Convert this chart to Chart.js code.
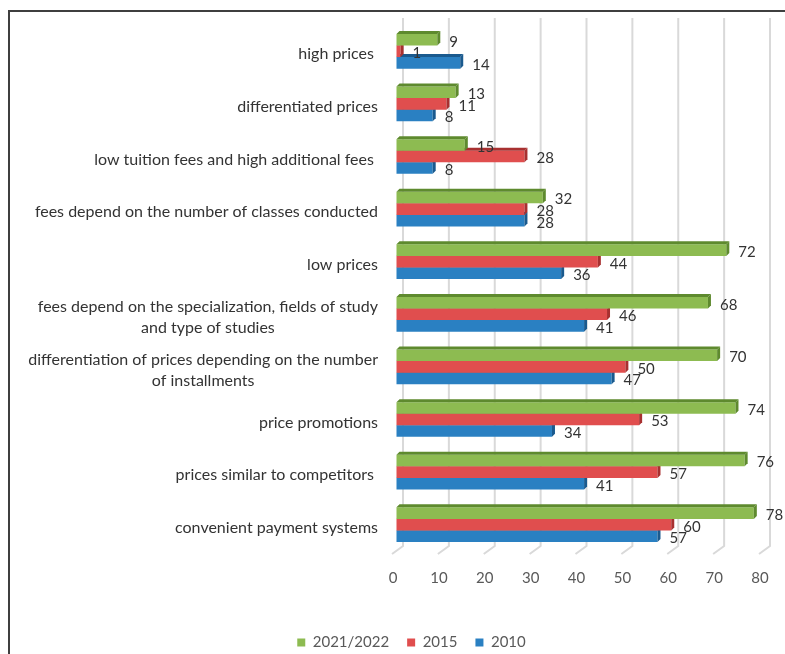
<!DOCTYPE html>
<html><head><meta charset="utf-8">
<script src="https://cdn.jsdelivr.net/npm/chart.js@4/dist/chart.umd.min.js"></script>
<style>
html,body{margin:0;padding:0;background:#fff;}
#wrap{position:relative;width:785px;height:654px;overflow:hidden;}
#frame{position:absolute;left:8px;top:10px;width:800px;height:700px;border-top:2px solid #3f3f3f;border-left:2px solid #3f3f3f;pointer-events:none;}
canvas{position:absolute;left:0;top:0;}
</style></head><body>
<div id="wrap"><canvas id="c" width="785" height="654"></canvas><div id="frame"></div></div>
<script>
const categories = [
  'high prices ',
  'differentiated prices',
  'low tuition fees and high additional fees ',
  'fees depend on the number of classes conducted',
  'low prices',
  ['fees depend on the specialization, fields of study', 'and type of studies'],
  ['differentiation of prices depending on the number', 'of installments'],
  'price promotions',
  'prices similar to competitors ',
  'convenient payment systems'
];
const seriesNames = ['2021/2022', '2015', '2010'];
const values2022 = [9, 13, 15, 32, 72, 68, 70, 74, 76, 78];
const values2015 = [1, 11, 28, 28, 44, 46, 50, 53, 57, 60];
const values2010 = [14, 8, 8, 28, 36, 41, 47, 34, 41, 57];
const xTickValues = [0, 10, 20, 30, 40, 50, 60, 70, 80];

const frontColors = ['#8DBB51', '#E04E4E', '#2A80C2'];
const sideColors = ['#5E8A2E', '#A83030', '#1A5A8E'];
const FONT = 'Lato, "Open Sans", sans-serif';
const TEXT = '#333333';
const D = 3; // 3D depth

const grid3d = {
  id: 'grid3d',
  beforeDatasetsDraw(chart) {
    const {ctx, chartArea, scales: {x}} = chart;
    ctx.save();
    ctx.strokeStyle = '#D9D9D9';
    ctx.lineWidth = 2;
    xTickValues.forEach(v => {
      const px = x.getPixelForValue(v);
      ctx.beginPath();
      ctx.moveTo(px + 7, chartArea.top - 7);
      ctx.lineTo(px + 7, chartArea.bottom - 5);
      ctx.lineTo(px - 4, chartArea.bottom + 3);
      ctx.stroke();
    });
    ctx.restore();
  }
};

const bars3d = {
  id: 'bars3d',
  afterDatasetDraw(chart, args) {
    const {ctx} = chart;
    const i = args.index;
    ctx.save();
    ctx.fillStyle = sideColors[i];
    args.meta.data.forEach(el => {
      const {x, y, base, height} = el.getProps(['x', 'y', 'base', 'height'], true);
      const t = y - height / 2, b = y + height / 2;
      ctx.beginPath();
      ctx.moveTo(base, t);
      ctx.lineTo(base + D, t - D);
      ctx.lineTo(x + D, t - D);
      ctx.lineTo(x, t);
      ctx.closePath();
      ctx.fill();
      ctx.beginPath();
      ctx.moveTo(x, t);
      ctx.lineTo(x + D, t - D);
      ctx.lineTo(x + D, b - D);
      ctx.lineTo(x, b);
      ctx.closePath();
      ctx.fill();
    });
    ctx.restore();
  }
};

const texts = {
  id: 'texts',
  afterDatasetsDraw(chart) {
    const {ctx, scales: {y}} = chart;
    ctx.save();
    ctx.fillStyle = TEXT;
    ctx.textBaseline = 'middle';
    ctx.textAlign = 'left';
    ctx.font = '15px ' + FONT;
    chart.data.datasets.forEach((ds, di) => {
      chart.getDatasetMeta(di).data.forEach((el, j) => {
        const {x, y: cy} = el.getProps(['x', 'y'], true);
        ctx.fillText(String(ds.data[j]), x + 12, cy + 2);
      });
    });
    ctx.font = '16px ' + FONT;
    ctx.textAlign = 'center';
    const right = 378, lh = 21;
    categories.forEach((lab, j) => {
      const lines = Array.isArray(lab) ? lab : [lab];
      const w = Math.max(...lines.map(l => ctx.measureText(l).width));
      const cx = right - w / 2;
      const cy = y.getPixelForValue(j) + 3;
      const start = cy - (lines.length - 1) * lh / 2;
      lines.forEach((l, k) => ctx.fillText(l, cx, start + k * lh));
    });
    ctx.restore();
  }
};

new Chart(document.getElementById('c'), {
  type: 'bar',
  data: {
    labels: categories,
    datasets: [
      {label: seriesNames[0], data: values2022, backgroundColor: frontColors[0]},
      {label: seriesNames[1], data: values2015, backgroundColor: frontColors[1]},
      {label: seriesNames[2], data: values2010, backgroundColor: frontColors[2]}
    ]
  },
  options: {
    indexAxis: 'y',
    responsive: false,
    animation: false,
    layout: {padding: {top: 25, right: 22, left: 60, bottom: -6}},
    datasets: {bar: {categoryPercentage: 0.66, barPercentage: 1, borderWidth: 0}},
    scales: {
      y: {
        type: 'category',
        ticks: {display: false},
        grid: {display: false, drawTicks: false},
        border: {display: false},
        afterFit(s) { s.width = 336; }
      },
      x: {
        min: 0, max: 80,
        ticks: {stepSize: 10, color: '#595959', font: {family: FONT, size: 15}, padding: 2, labelOffset: -3, maxRotation: 0},
        grid: {display: true, color: 'rgba(0,0,0,0)', drawOnChartArea: false, drawTicks: true, tickLength: 16},
        border: {display: false},
        afterFit(s) { s.height = 66; }
      }
    },
    plugins: {
      legend: {
        position: 'bottom',
        labels: {boxWidth: 8, boxHeight: 8, padding: 18, color: '#595959', font: {family: FONT, size: 15}}
      },
      tooltip: {enabled: false}
    }
  },
  plugins: [grid3d, bars3d, texts]
});
</script>
</body></html>
